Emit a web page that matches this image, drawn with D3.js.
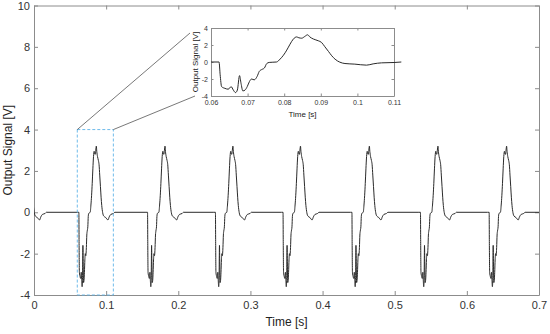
<!DOCTYPE html>
<html>
<head>
<meta charset="utf-8">
<script src="https://cdn.jsdelivr.net/npm/d3@7"></script>
<style>
  html, body { margin: 0; padding: 0; background: #fff; }
  svg { display: block; font-family: "Liberation Sans", Arial, sans-serif; }
</style>
</head>
<body>
<div id="chart"></div>
<script>
// one pulse (time in s, signal in V)
const pulseTime = [0.0600, 0.0622, 0.0625, 0.0629, 0.0638, 0.0647, 0.0655, 0.0661, 0.0667, 0.0672,
  0.0678, 0.0682, 0.0687, 0.0693, 0.0699, 0.0705, 0.0711, 0.0718, 0.0726, 0.0732, 0.0738, 0.0746,
  0.0752, 0.0759, 0.0779, 0.0789, 0.0798, 0.0807, 0.0816, 0.0825, 0.0834, 0.0840, 0.0848, 0.0856,
  0.0864, 0.0870, 0.0880, 0.0893, 0.0902, 0.0911, 0.0921, 0.0930, 0.0939, 0.0952, 0.0966, 0.0993,
  0.1025, 0.1043, 0.1066, 0.1100, 0.1120];
const pulseValue = [0, 0, -1.5, -2.9, -3.1, -3.2, -2.9, -3.3, -3.6, -3.3,
  -1.6, -2.5, -3.4, -3.3, -2.9, -2.3, -2.0, -2.1, -1.7, -1.1, -0.9, -0.7,
  -0.2, -0.05, 0, 0.35, 0.8, 1.4, 2.1, 2.7, 2.95, 2.85, 2.8, 3.0,
  3.2, 2.95, 2.7, 2.5, 2.3, 1.8, 1.24, 0.73, 0.33, -0.02, -0.18, -0.25,
  -0.37, -0.22, -0.1, -0.06, 0];
// where each pulse in the full record sits relative to the inset pulse
const pulseShift = [-0.0948, 0, 0.0952, 0.1893, 0.2830, 0.3785, 0.4735, 0.5687];
const recordEnd = [0.7, 0];

const xTicks = [0, 0.1, 0.2, 0.3, 0.4, 0.5, 0.6, 0.7];
const yTicks = [-4, -2, 0, 2, 4, 6, 8, 10];
const insetXTicks = [0.06, 0.07, 0.08, 0.09, 0.1, 0.11];
const insetYTicks = [-4, -2, 0, 2, 4];
const zoomWindow = { t0: 0.06, t1: 0.11, v0: -4, v1: 4 };

const W = 550, H = 334;
const axisColor = "#8c8c8c", textColor = "#333", lineColor = "#2a2a2a";

const svg = d3.select("#chart").append("svg").attr("width", W).attr("height", H);

// build full trace
const trace = [];
pulseShift.forEach(s => {
  pulseTime.forEach((t, i) => trace.push([t + s, pulseValue[i]]));
});
trace.push(recordEnd);
const pulse = pulseTime.map((t, i) => [t, pulseValue[i]]);

function drawAxes(g, x, y, xt, yt, opts) {
  const [x0, x1] = x.range(), [y0, y1] = y.range();
  const tl = opts.tick;
  const fmt = d => String(d);
  g.append("g").attr("transform", `translate(0,${y0})`)
    .call(d3.axisBottom(x).tickValues(xt).tickSize(-tl).tickSizeOuter(0).tickPadding(opts.padX).tickFormat(fmt));
  g.append("g").attr("transform", `translate(0,${y1})`)
    .call(d3.axisTop(x).tickValues(xt).tickSize(-tl).tickSizeOuter(0).tickFormat(""));
  g.append("g").attr("transform", `translate(${x0},0)`)
    .call(d3.axisLeft(y).tickValues(yt).tickSize(-tl).tickSizeOuter(0).tickPadding(opts.padY).tickFormat(fmt));
  g.append("g").attr("transform", `translate(${x1},0)`)
    .call(d3.axisRight(y).tickValues(yt).tickSize(-tl).tickSizeOuter(0).tickFormat(""));
  g.selectAll(".domain").attr("stroke", axisColor);
  g.selectAll(".tick line").attr("stroke", axisColor);
  g.selectAll(".tick text").attr("fill", textColor).style("font-size", opts.font + "px")
    .style("font-family", '"Liberation Sans", Arial, sans-serif');
}

// main axes
const x = d3.scaleLinear().domain([0, 0.7]).range([34, 539]);
const y = d3.scaleLinear().domain([-4, 10]).range([295, 5.5]);

const main = svg.append("g");
main.append("clipPath").attr("id", "clipMain").append("rect")
  .attr("x", x(0)).attr("y", y(10)).attr("width", x(0.7) - x(0)).attr("height", y(-4) - y(10));
drawAxes(main, x, y, xTicks, yTicks, { tick: 4, font: 11, padX: 6, padY: 4 });

const line = d3.line().x(d => x(d[0])).y(d => y(d[1])).curve(d3.curveMonotoneX);
main.append("path").datum(trace).attr("clip-path", "url(#clipMain)")
  .attr("d", line).attr("fill", "none").attr("stroke", lineColor).attr("stroke-width", 1);

main.append("text").attr("x", (x(0) + x(0.7)) / 2).attr("y", 326)
  .attr("text-anchor", "middle").attr("fill", "#222").style("font-size", "12px").text("Time [s]");
main.append("text").attr("transform", `translate(11.5,${(y(10) + y(-4)) / 2}) rotate(-90)`)
  .attr("text-anchor", "middle").attr("fill", "#222").style("font-size", "12px").text("Output Signal [V]");

// zoom box and connectors
main.append("rect")
  .attr("x", x(zoomWindow.t0)).attr("y", y(zoomWindow.v1))
  .attr("width", x(zoomWindow.t1) - x(zoomWindow.t0)).attr("height", y(zoomWindow.v0) - y(zoomWindow.v1))
  .attr("fill", "none").attr("stroke", "#5fb3e8").attr("stroke-width", 0.9).attr("stroke-dasharray", "3,2");
main.append("line").attr("x1", x(zoomWindow.t0)).attr("y1", y(zoomWindow.v1)).attr("x2", 190).attr("y2", 33)
  .attr("stroke", "#555").attr("stroke-width", 0.8);
main.append("line").attr("x1", x(zoomWindow.t1)).attr("y1", y(zoomWindow.v1)).attr("x2", 195).attr("y2", 96)
  .attr("stroke", "#555").attr("stroke-width", 0.8);

// inset
const xi = d3.scaleLinear().domain([zoomWindow.t0, zoomWindow.t1]).range([211, 394]);
const yi = d3.scaleLinear().domain([zoomWindow.v0, zoomWindow.v1]).range([96, 28]);
const inset = svg.append("g");
inset.append("rect").attr("x", 211).attr("y", 28).attr("width", 183).attr("height", 68).attr("fill", "#fff");
drawAxes(inset, xi, yi, insetXTicks, insetYTicks, { tick: 2.5, font: 7, padX: 4, padY: 3 });
const lineI = d3.line().x(d => xi(d[0])).y(d => yi(d[1])).curve(d3.curveMonotoneX);
inset.append("path").datum(pulse).attr("d", lineI)
  .attr("fill", "none").attr("stroke", lineColor).attr("stroke-width", 1);
inset.append("text").attr("x", (211 + 394) / 2).attr("y", 117)
  .attr("text-anchor", "middle").attr("fill", "#222").style("font-size", "8px").text("Time [s]");
inset.append("text").attr("transform", `translate(198,62) rotate(-90)`)
  .attr("text-anchor", "middle").attr("fill", "#222").style("font-size", "8px").text("Output Signal [V]");
</script>
</body>
</html>
